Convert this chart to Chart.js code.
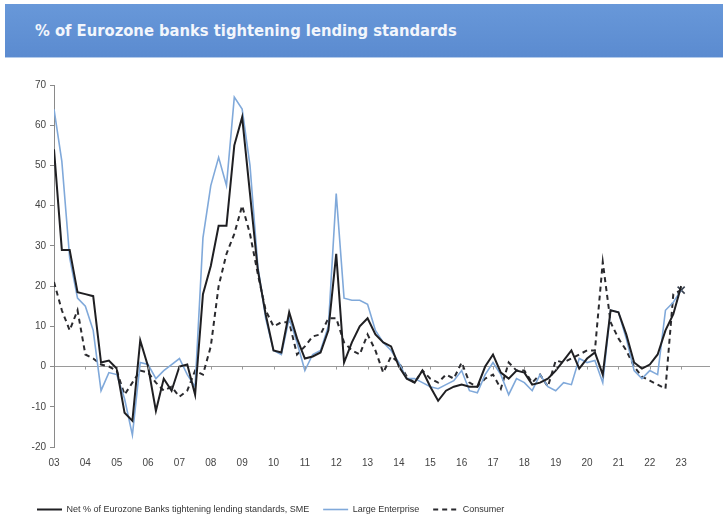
<!DOCTYPE html>
<html>
<head>
<meta charset="utf-8">
<script src="https://cdn.jsdelivr.net/npm/chart.js@4.4.0/dist/chart.umd.min.js"></script>
<style>
  html, body { margin: 0; padding: 0; background: #ffffff; width: 723px; height: 531px; overflow: hidden; }
  #banner {
    position: absolute; left: 5px; top: 4px; width: 718px; height: 53px;
    background: linear-gradient(#6898d9, #5b8bd0);
    border-bottom: 1px solid #b3cbeb;
  }
  #banner span {
    position: absolute; left: 30px; top: 17px; line-height: 20px;
    color: #f2f6fc; white-space: nowrap;
    font-family: "DejaVu Sans Condensed", "DejaVu Sans", sans-serif;
    font-weight: bold; font-size: 20px;
  }
  #wrap { position: absolute; left: 0; top: 0; width: 723px; height: 531px; }
</style>
</head>
<body>
<div id="banner"><span id="title">% of Eurozone banks tightening lending standards</span></div>
<div id="wrap"><canvas id="chart"></canvas></div>
<script>
// Fit the banner headline to its width
const titleEl = document.getElementById('title');
titleEl.style.fontSize = (20 * 422 / titleEl.offsetWidth).toFixed(2) + 'px';

// Year tick labels (one per calendar year, first quarter)
const yearLabels = ['03','04','05','06','07','08','09','10','11','12','13',
                    '14','15','16','17','18','19','20','21','22','23'];
const firstYear = 2003;

// Quarterly net % of banks tightening, 2003Q1 .. 2023Q1 (four values per row = one year)
const sme = [
  54, 29, 29, 18.5,
  18, 17.5, 1, 1.5,
  -0.5, -11.5, -13.5, 6.5,
  0, -11, -3, -6,
  0, 0.5, -7, 18,
  25, 35, 35, 55,
  62, 43, 24, 13,
  4, 3.5, 13.5, 7,
  2, 2.5, 3.5, 9,
  28, 1, 6, 10,
  12, 8, 6, 5,
  0, -3, -4, -1,
  -5, -8.5, -6, -5,
  -4.5, -5, -5, 0,
  3, -1.5, -3, -1,
  -1.5, -4.5, -4, -3,
  -1, 1.5, 4, -0.5,
  2, 3.5, -2, 14,
  13.5, 8, 1, -0.5,
  0.5, 3, 9, 13,
  20
];
const largeEnterprise = [
  64, 51, 27, 17,
  15, 9, -6, -1.5,
  -2, -8, -17, 1,
  0.5, -3, -1, 0.5,
  2, -2, -5, 32,
  45, 52, 45, 67,
  64, 50, 25, 12,
  4, 3, 12, 6,
  -1, 3, 4, 10,
  43, 17, 16.5, 16.5,
  15.5, 9, 6, 4,
  1, -3, -3, -4,
  -5, -5.5, -4.5, -3.5,
  -1, -6, -6.5, -2,
  1, -2, -7, -3,
  -4, -6, -2, -5,
  -6, -4, -4.5, 2,
  1, 1.5, -4, 14,
  13.5, 7, -1, -3,
  -1, -2, 14, 16,
  19
];
const consumer = [
  21, 14, 9, 14,
  3, 2, 0.5, 0,
  -1, -7, -4, -1,
  -1.5, -4, -6, -5,
  -7.5, -6, -1, -2,
  5, 20, 28, 33,
  40, 33, 23, 14,
  10, 11, 11, 3,
  5, 7.5, 8, 12,
  12, 6, 4, 3,
  8, 4, -1.5, 2.5,
  1, -2.5, -4, -1,
  -3, -4, -2, -3,
  1, -4, -5, -3,
  -2, -5.5, 1, -1,
  -1, -4, -2, -5,
  1.5, 1, 2, 3,
  4, 4, 26, 11,
  7, 4, 0, -2.5,
  -3.5, -4.5, -5.5, 18,
  19
];

const seriesNames = [
  'Net % of Eurozone Banks tightening lending standards, SME',
  'Large Enterprise',
  'Consumer'
];

const toPoints = arr => arr.map((v, i) => ({ x: firstYear + i / 4, y: v }));
const lastIdx = consumer.length - 1;

const narrow = '"Liberation Sans Narrow", "Liberation Sans", Arial, sans-serif';

// Small year tick marks sitting on the zero line
const zeroTicks = {
  id: 'zeroTicks',
  afterDatasetsDraw(chart) {
    const { ctx, scales: { x, y } } = chart;
    const y0 = y.getPixelForValue(0);
    ctx.save();
    ctx.strokeStyle = '#9a9a9a';
    ctx.lineWidth = 1;
    yearLabels.forEach((_, i) => {
      if (i === 0) return;
      const px = Math.round(x.getPixelForValue(firstYear + i)) + 0.5;
      ctx.beginPath();
      ctx.moveTo(px, y0);
      ctx.lineTo(px, y0 + 3);
      ctx.stroke();
    });
    ctx.restore();
  }
};

new Chart(document.getElementById('chart'), {
  type: 'line',
  data: {
    datasets: [
      {
        label: seriesNames[0],
        data: toPoints(sme),
        borderColor: '#1f1f22',
        borderWidth: 2,
        pointRadius: 0,
        tension: 0
      },
      {
        label: seriesNames[1],
        data: toPoints(largeEnterprise),
        borderColor: '#80a9da',
        borderWidth: 1.6,
        pointRadius: 0,
        tension: 0
      },
      {
        label: seriesNames[2],
        data: toPoints(consumer),
        borderColor: '#2a2a2e',
        borderWidth: 2,
        borderDash: [5, 4],
        pointStyle: 'crossRot',
        pointRadius: ctx => ctx.dataIndex === lastIdx ? 5 : 0,
        pointBorderColor: '#3a4250',
        pointBorderWidth: 1.6,
        tension: 0
      }
    ]
  },
  options: {
    responsive: true,
    maintainAspectRatio: false,
    animation: false,
    devicePixelRatio: 1,
    layout: { padding: { left: 23, right: 13, top: 85, bottom: 7 } },
    plugins: {
      tooltip: { enabled: false },
      legend: {
        position: 'bottom',
        align: 'start',
        labels: {
          usePointStyle: true,
          pointStyleWidth: 25,
          boxWidth: 25,
          padding: 14,
          color: '#333333',
          font: { family: narrow, size: 9 },
          generateLabels(chart) {
            return chart.data.datasets.map((ds, i) => ({
              text: ds.label,
              datasetIndex: i,
              pointStyle: 'line',
              strokeStyle: ds.borderColor,
              fillStyle: ds.borderColor,
              lineWidth: ds.borderWidth,
              lineDash: ds.borderDash || [],
              fontColor: '#333333',
              hidden: false
            }));
          }
        }
      }
    },
    scales: {
      x: {
        type: 'linear',
        min: 2003,
        max: 2023.92,
        grid: { display: false, drawTicks: false },
        border: { display: false },
        afterBuildTicks(scale) {
          scale.ticks = yearLabels.map((_, i) => ({ value: firstYear + i }));
        },
        afterFit(scale) { scale.height = 44; },
        ticks: {
          autoSkip: false,
          maxRotation: 0,
          padding: 10,
          color: '#444444',
          font: { family: narrow, size: 10 },
          callback: v => yearLabels[Math.round(v) - firstYear]
        }
      },
      y: {
        min: -20,
        max: 70,
        afterFit(scale) { scale.width = 31; },
        border: { display: true, color: '#8a8a8a', width: 1 },
        grid: {
          drawOnChartArea: true,
          color: ctx => ctx.tick && ctx.tick.value === 0 ? '#9a9a9a' : 'rgba(0,0,0,0)',
          tickColor: '#8a8a8a',
          tickLength: 4,
          lineWidth: 1
        },
        ticks: {
          stepSize: 10,
          padding: 4,
          color: '#444444',
          font: { family: narrow, size: 10 }
        }
      }
    }
  },
  plugins: [zeroTicks]
});
</script>
</body>
</html>
